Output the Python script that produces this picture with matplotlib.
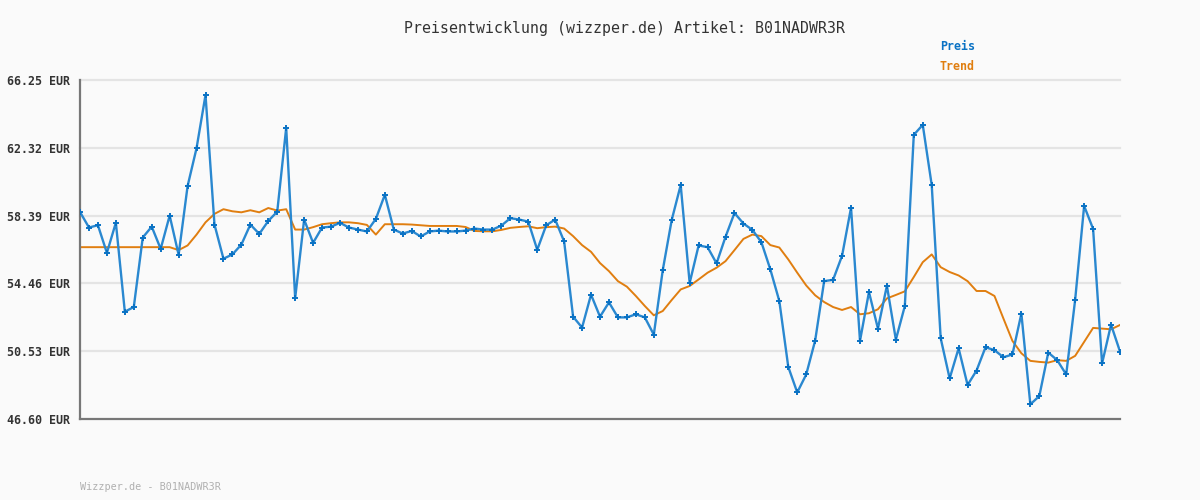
import matplotlib
matplotlib.use("Agg")
import matplotlib.pyplot as plt
import numpy as np

title = "Preisentwicklung (wizzper.de) Artikel: B01NADWR3R"
footer = "Wizzper.de - B01NADWR3R"
ytick_values = [46.60, 50.53, 54.46, 58.39, 62.32, 66.25]
ytick_labels = ["46.60 EUR", "50.53 EUR", "54.46 EUR", "58.39 EUR", "62.32 EUR", "66.25 EUR"]

preis = [
    58.60, 57.70, 57.83, 56.23, 57.98, 52.82, 53.09, 57.12, 57.75, 56.46,
    58.39, 56.12, 60.10, 62.30, 65.38, 57.87, 55.89, 56.14, 56.71, 57.87,
    57.33, 58.08, 58.62, 63.48, 53.61, 58.16, 56.81, 57.70, 57.75, 57.97,
    57.70, 57.58, 57.47, 58.20, 59.60, 57.58, 57.35, 57.50, 57.18, 57.47,
    57.52, 57.47, 57.47, 57.52, 57.64, 57.58, 57.58, 57.81, 58.24, 58.16,
    58.04, 56.41, 57.83, 58.16, 56.89, 52.53, 51.90, 53.81, 52.53, 53.36,
    52.49, 52.49, 52.67, 52.49, 51.49, 55.23, 58.14, 60.16, 54.48, 56.66,
    56.56, 55.62, 57.16, 58.54, 57.93, 57.56, 56.85, 55.27, 53.44, 49.62,
    48.14, 49.18, 51.15, 54.59, 54.67, 56.06, 58.85, 51.13, 53.96, 51.84,
    54.33, 51.20, 53.15, 63.07, 63.65, 60.16, 51.28, 48.95, 50.70, 48.57,
    49.41, 50.76, 50.59, 50.18, 50.34, 52.71, 47.45, 47.93, 50.45, 50.01,
    49.18, 53.52, 58.95, 57.62, 49.82, 52.07, 50.51,
]

trend = [
    56.56, 56.56, 56.56, 56.56, 56.56, 56.56, 56.56, 56.56, 56.56, 56.56,
    56.56, 56.39, 56.66, 57.29, 58.00, 58.49, 58.76, 58.64, 58.58, 58.70,
    58.58, 58.83, 58.68, 58.76, 57.58, 57.58, 57.72, 57.89, 57.95, 58.00,
    58.00, 57.95, 57.85, 57.29, 57.89, 57.89, 57.89, 57.87, 57.83, 57.79,
    57.79, 57.79, 57.79, 57.73, 57.50, 57.48, 57.48, 57.56, 57.68, 57.73,
    57.77, 57.66, 57.72, 57.75, 57.64, 57.20, 56.68, 56.29, 55.64, 55.17,
    54.59, 54.27, 53.73, 53.15, 52.61, 52.86, 53.50, 54.11, 54.31, 54.69,
    55.08, 55.37, 55.75, 56.39, 57.04, 57.29, 57.20, 56.68, 56.54, 55.85,
    55.08, 54.34, 53.77, 53.38, 53.09, 52.92, 53.09, 52.67, 52.73, 52.96,
    53.59, 53.79, 54.00, 54.83, 55.69, 56.14, 55.40, 55.12, 54.92, 54.59,
    54.02, 54.02, 53.73, 52.42, 51.13, 50.41, 49.97, 49.91, 49.87, 50.01,
    49.97, 50.26, 51.07, 51.88, 51.84, 51.80, 52.05,
]

x = np.arange(len(preis))

BG = "#fafafa"
BLUE_LINE = "#2a88d0"
BLUE_MARK = "#0a72c4"
ORANGE = "#e07e10"
GRID = "#e4e4e4"
AXIS = "#777777"
TEXT = "#333333"
MONO = "DejaVu Sans Mono"

fig = plt.figure(figsize=(12, 5), dpi=100, facecolor=BG)
ax = fig.add_axes([80/1200, 1 - 419/500, 1040/1200, 339/500])
ax.set_facecolor(BG)

ax.set_xlim(0, len(preis) - 1)
ax.set_ylim(ytick_values[0], ytick_values[-1])

for v in ytick_values[1:]:
    ax.axhline(v, color=GRID, lw=1.6, zorder=0, clip_on=False)

ax.plot(x, trend, color=ORANGE, lw=1.4, zorder=2, solid_joinstyle="round")
ax.plot(x, preis, color=BLUE_LINE, lw=1.7, zorder=3,
        marker="+", markersize=4.2, markeredgewidth=1.4,
        markeredgecolor=BLUE_MARK, solid_joinstyle="round")

ax.set_yticks(ytick_values)
ax.set_yticklabels(ytick_labels, fontfamily=MONO, fontweight="bold",
                   fontsize=8.4, color=TEXT)
ax.tick_params(axis="y", length=0, pad=7)
ax.set_xticks([])

for s in ["top", "right"]:
    ax.spines[s].set_visible(False)
for s in ["left", "bottom"]:
    ax.spines[s].set_color(AXIS)
    ax.spines[s].set_linewidth(1.6)

fig.text(624/1200, 1 - 28/500, title, ha="center", va="center",
         fontfamily=MONO, fontsize=10.7, color=TEXT)
fig.text(940/1200, 1 - 47/500, "Preis", ha="left", va="center",
         fontfamily=MONO, fontsize=8.4, fontweight="bold", color=BLUE_MARK)
fig.text(940/1200, 1 - 67/500, "Trend", ha="left", va="center",
         fontfamily=MONO, fontsize=8.4, fontweight="bold", color=ORANGE)
fig.text(80/1200, 1 - 487/500, footer, ha="left", va="center",
         fontfamily=MONO, fontsize=7.3, color="#b0b0b0")

fig.savefig("out.png", dpi=100, facecolor=BG)
